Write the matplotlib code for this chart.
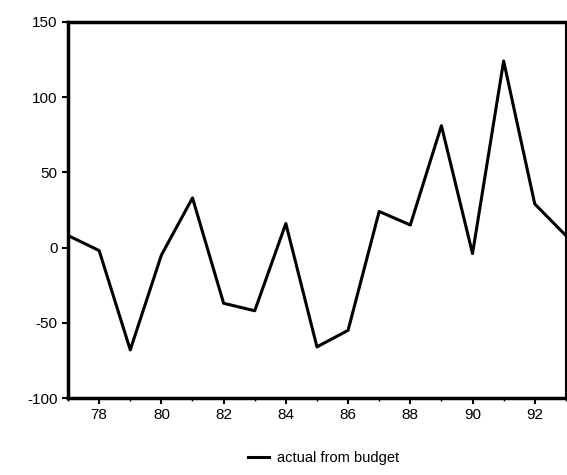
import matplotlib.pyplot as plt
import numpy as np

# years 1977-1993, deviation of actual from budget
years = [77, 78, 79, 80, 81, 82, 83, 84, 85, 86, 87, 88, 89, 90, 91, 92, 93]
actual_from_budget = [8, -2, -68, -5, 33, -37, -42, 16, -66, -55, 24, 15, 81, -4, 124, 29, 8]

plt.rcParams['font.family'] = ['Liberation Sans', 'DejaVu Sans']
plt.rcParams['axes.unicode_minus'] = False

fig = plt.figure(figsize=(5.67, 4.75), dpi=100)
ax = fig.add_axes([0.12, 0.162, 0.878, 0.792])

ax.plot(years, actual_from_budget, color='black', lw=2.2, label='actual from budget')

ax.set_xlim(77, 93)
ax.set_ylim(-100, 150)
ax.set_xticks(np.arange(78, 93, 2))
ax.set_xticks(years, minor=True)
ax.set_yticks([-100, -50, 0, 50, 100, 150])

for s in ['left', 'bottom', 'top']:
    ax.spines[s].set_linewidth(2.5)
ax.spines['right'].set_linewidth(1.5)

ax.tick_params(axis='both', which='major', direction='out', length=4, width=1.5,
               labelsize=11, colors='black')
ax.tick_params(axis='x', which='minor', direction='out', length=2, width=1)
ax.tick_params(axis='y', which='minor', left=False)

fig.legend(loc='center', bbox_to_anchor=(0.57, 0.035), frameon=False,
           fontsize=10.5, handlelength=1.5, handletextpad=0.5)

fig.savefig('out.png', dpi=100)
